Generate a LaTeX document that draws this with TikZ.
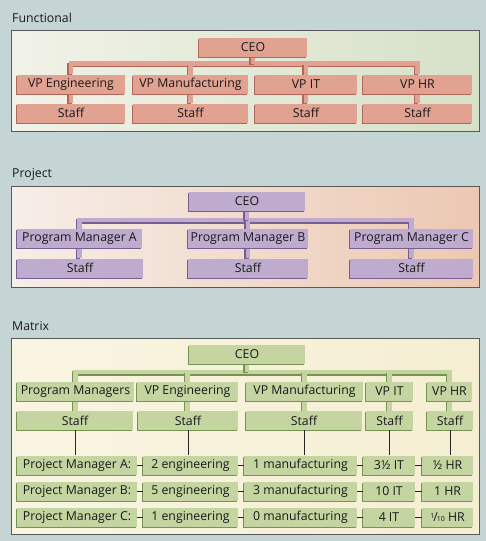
\documentclass[tikz,border=0pt]{standalone}
\usepackage{fontspec}
\setmainfont{Open Sans}
\usetikzlibrary{shadows}

\definecolor{bgblue}{RGB}{197,213,214}
\definecolor{salmon}{RGB}{226,162,146}
\definecolor{salmondk}{RGB}{178,102,90}
\definecolor{lilac}{RGB}{190,171,205}
\definecolor{lilacdk}{RGB}{118,94,146}
\definecolor{leaf}{RGB}{196,213,162}
\definecolor{leafdk}{RGB}{118,148,80}
\definecolor{funcL}{RGB}{241,242,232}
\definecolor{funcR}{RGB}{214,225,200}
\definecolor{projL}{RGB}{246,238,232}
\definecolor{projR}{RGB}{236,200,178}
\definecolor{matL}{RGB}{249,245,226}
\definecolor{matR}{RGB}{245,238,210}

\pgfdeclarelayer{panel}
\pgfdeclarelayer{links}
\pgfsetlayers{panel,links,main}

\newcommand{\tenth}{{\raisebox{.45ex}{\fontsize{7}{7}\selectfont 1}\kern-.08em/\kern-.08em{\fontsize{7}{7}\selectfont 10}}}

\begin{document}
\begin{tikzpicture}[x=1pt,y=-1pt,
    box/.style={inner sep=0pt,minimum height=19pt,text=black!90,font=\fontsize{12.3}{14}\selectfont,
        fill=#1,general shadow={fill=#1dk,shadow xshift=-1.4pt,shadow yshift=-1.4pt}},
    link/.style={line width=4.5pt,draw=#1,
        preaction={draw=#1dk,line width=4.5pt,transform canvas={shift={(-1.4pt,-1.4pt)}}}},
    title/.style={anchor=west,inner sep=0pt,text=black!90,font=\fontsize{12.3}{14}\selectfont},
    panel/.style={draw=black!65,line width=0.8pt},
    wire/.style={draw=black!85,line width=0.8pt}]

    \useasboundingbox (0,0) rectangle (486,541);

    \begin{pgfonlayer}{panel}
        \fill[bgblue] (0,0) rectangle (486,541);
        \shade[left color=funcL,right color=funcR] (11,30) rectangle (479,131);
        \draw[panel] (11,30) rectangle (479,131);
        \shade[left color=projL,right color=projR] (11,186) rectangle (479,287);
        \draw[panel] (11,186) rectangle (479,287);
        \shade[left color=matL,right color=matR] (11,338) rectangle (479,534);
        \draw[panel] (11,338) rectangle (479,534);
    \end{pgfonlayer}

    \node[title] (tf) at (12,18) {Functional};
    \node[title] (tp) at (12,174) {Project};
    \node[title] (tm) at (12,326) {Matrix};

    % functional
    \node[box=salmon,minimum width=108pt] (fceo) at (253,47) {CEO};
    \node[box=salmon,minimum width=108pt] (fvp1) at (71,84) {VP Engineering};
    \node[box=salmon,minimum width=115pt] (fvp2) at (190.5,84) {VP Manufacturing};
    \node[box=salmon,minimum width=102pt] (fvp3) at (306,84) {VP IT};
    \node[box=salmon,minimum width=109pt] (fvp4) at (417.5,84) {VP HR};
    \node[box=salmon,minimum width=108pt] (fst1) at (71,113) {Staff};
    \node[box=salmon,minimum width=115pt] (fst2) at (190.5,113) {Staff};
    \node[box=salmon,minimum width=102pt] (fst3) at (306,113) {Staff};
    \node[box=salmon,minimum width=109pt] (fst4) at (417.5,113) {Staff};
    \coordinate (fbar) at (0,63.5);

    % project
    \node[box=lilac,minimum width=116pt] (pceo) at (247,201.5) {CEO};
    \node[box=lilac,minimum width=125pt] (ppm1) at (79.5,238.5) {Program Manager A};
    \node[box=lilac,minimum width=120pt] (ppm2) at (248,238.5) {Program Manager B};
    \node[box=lilac,minimum width=123pt] (ppm3) at (411.5,238.5) {Program Manager C};
    \node[box=lilac,minimum width=126pt] (pst1) at (80,268) {Staff};
    \node[box=lilac,minimum width=120pt] (pst2) at (248,268) {Staff};
    \node[box=lilac,minimum width=123pt] (pst3) at (411.5,268) {Staff};
    \coordinate (pbar) at (0,220);

    % matrix
    \node[box=leaf,minimum width=116pt] (mceo) at (247,354.5) {CEO};
    \node[box=leaf,minimum width=117pt] (mvp1) at (75.5,391.5) {Program Managers};
    \node[box=leaf,minimum width=101pt] (mvp2) at (187.5,391.5) {VP Engineering};
    \node[box=leaf,minimum width=117pt] (mvp3) at (304.5,391.5) {VP Manufacturing};
    \node[box=leaf,minimum width=47pt] (mvp4) at (389.5,391.5) {VP IT};
    \node[box=leaf,minimum width=45pt] (mvp5) at (449.5,391.5) {VP HR};
    \node[box=leaf,minimum width=116pt] (mst1) at (75,420.5) {Staff};
    \node[box=leaf,minimum width=100pt] (mst2) at (188,420.5) {Staff};
    \node[box=leaf,minimum width=116pt] (mst3) at (304,420.5) {Staff};
    \node[box=leaf,minimum width=47pt] (mst4) at (389.5,420.5) {Staff};
    \node[box=leaf,minimum width=46pt] (mst5) at (450,420.5) {Staff};
    \coordinate (mbar) at (0,372);

    \node[box=leaf,minimum width=120pt] (a1) at (77,465) {Project Manager A:};
    \node[box=leaf,minimum width=95pt] (a2) at (190.5,465) {2 engineering};
    \node[box=leaf,minimum width=113pt] (a3) at (300.5,465) {1 manufacturing};
    \node[box=leaf,minimum width=52pt] (a4) at (389,465) {3½ IT};
    \node[box=leaf,minimum width=51pt] (a5) at (447.5,465) {½ HR};
    \node[box=leaf,minimum width=120pt] (b1) at (77,491) {Project Manager B:};
    \node[box=leaf,minimum width=95pt] (b2) at (190.5,491) {5 engineering};
    \node[box=leaf,minimum width=113pt] (b3) at (300.5,491) {3 manufacturing};
    \node[box=leaf,minimum width=52pt] (b4) at (389,491) {10 IT};
    \node[box=leaf,minimum width=51pt] (b5) at (447.5,491) {1 HR};
    \node[box=leaf,minimum width=120pt] (c1) at (77,517) {Project Manager C:};
    \node[box=leaf,minimum width=95pt] (c2) at (190.5,517) {1 engineering};
    \node[box=leaf,minimum width=113pt] (c3) at (300.5,517) {0 manufacturing};
    \node[box=leaf,minimum width=52pt] (c4) at (389,517) {4 IT};
    \node[box=leaf,minimum width=51pt] (c5) at (447.5,517) {\tenth\ HR};

    \begin{pgfonlayer}{links}
        \draw[link=salmon] (fvp1.north) |- (fbar -| fvp4.north) -- (fvp4.north);
        \foreach \n in {fvp2,fvp3,fceo}
            \draw[link=salmon] (\n.center) -- (\n.center |- fbar);
        \foreach \i in {1,...,4}
            \draw[link=salmon] (fvp\i.center) -- (fvp\i.center |- fst\i.north);

        \draw[link=lilac] (ppm1.north) |- (pbar -| ppm3.north) -- (ppm3.north);
        \foreach \n in {ppm2,pceo}
            \draw[link=lilac] (\n.center) -- (\n.center |- pbar);
        \foreach \i in {1,...,3}
            \draw[link=lilac] (ppm\i.center) -- (ppm\i.center |- pst\i.north);

        \draw[link=leaf] (mvp1.north) |- (mbar -| mvp5.north) -- (mvp5.north);
        \foreach \n in {mvp2,mvp3,mvp4,mceo}
            \draw[link=leaf] (\n.center) -- (\n.center |- mbar);
        \foreach \i in {1,...,5}
            \draw[link=leaf] (mvp\i.center) -- (mvp\i.center |- mst\i.north);
    \end{pgfonlayer}

    % staff to project managers
    \foreach \i in {1,...,5}
        \draw[wire] (mst\i.south) -- (mst\i.south |- a\i.north);
    \foreach \r in {a,b,c}
        \foreach \i/\j in {1/2,2/3,3/4,4/5}
            \draw[wire] (\r\i.east) -- (\r\j.west);
\end{tikzpicture}
\end{document}
